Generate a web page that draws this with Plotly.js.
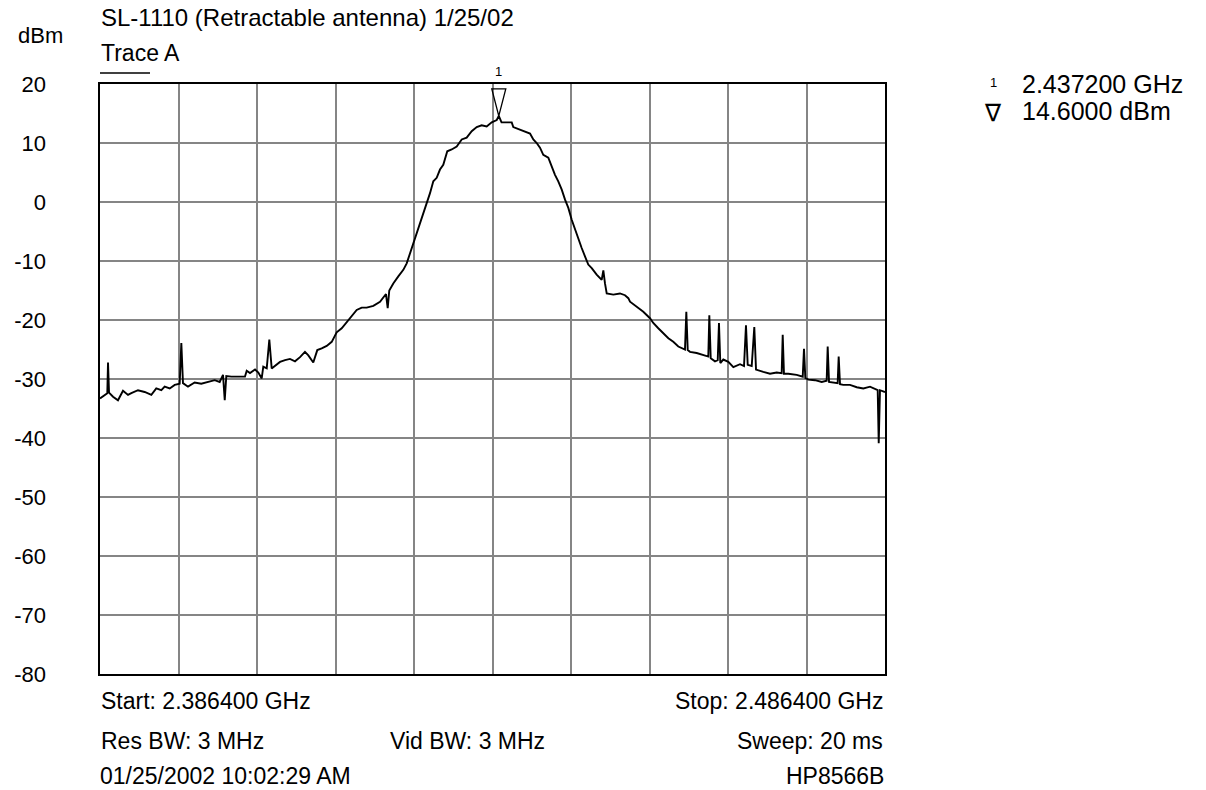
<!DOCTYPE html>
<html>
<head>
<meta charset="utf-8">
<script src="https://cdn.plot.ly/plotly-3.0.1.min.js"></script>
<style>
  html, body { margin: 0; padding: 0; background: #ffffff; }
  #plot { width: 1206px; height: 790px; }
</style>
</head>
<body>
<div id="plot"></div>
<script>
// Sweep settings (HP8566B spectrum analyzer)
const startMHz = 2386.4;
const stopMHz = 2486.4;
const refLevel = 20;
const bottomLevel = -80;
const dbPerDiv = 10;

// Marker 1
const markerMHz = 2437.2;
const markerDbm = 14.6;

// Trace A: frequency (MHz) and level (dBm)
const freqMHz = [
  2386.40, 2387.00, 2387.33, 2387.42, 2387.55, 2388.06, 2388.69, 2389.33, 2389.97, 2390.39,
  2391.24, 2392.09, 2392.94, 2393.57, 2394.21, 2394.64, 2395.28, 2395.92, 2396.55, 2396.76,
  2396.97, 2397.61, 2398.46, 2399.30, 2400.16, 2401.01, 2401.65, 2402.07, 2402.29, 2402.49,
  2403.13, 2404.87, 2405.09, 2405.51, 2406.15, 2406.57, 2407.00, 2407.20, 2407.64, 2407.97,
  2408.27, 2408.91, 2409.33, 2409.97, 2410.60, 2411.24, 2411.88, 2412.51, 2412.94, 2413.57,
  2414.08, 2414.64, 2415.28, 2415.92, 2416.55, 2417.19, 2417.83, 2418.46, 2419.10, 2419.74,
  2420.37, 2421.22, 2422.07, 2422.83, 2423.05, 2423.25, 2423.76, 2424.40, 2425.04, 2425.47,
  2425.89, 2426.31, 2426.74, 2427.16, 2427.59, 2428.02, 2428.44, 2428.86, 2429.29, 2429.71,
  2430.13, 2430.64, 2431.20, 2431.84, 2432.48, 2433.11, 2433.75, 2434.39, 2435.02, 2435.66,
  2436.30, 2436.94, 2437.20, 2437.55, 2438.85, 2439.05, 2439.90, 2440.54, 2441.18, 2441.60,
  2442.03, 2442.45, 2442.87, 2443.51, 2443.94, 2444.36, 2444.78, 2445.22, 2445.64, 2446.06,
  2446.49, 2446.91, 2447.33, 2447.76, 2448.18, 2448.60, 2449.04, 2449.67, 2450.31, 2450.52,
  2450.73, 2450.95, 2451.79, 2452.64, 2453.28, 2453.70, 2453.92, 2454.77, 2455.61, 2456.46,
  2456.88, 2457.52, 2458.16, 2458.80, 2459.43, 2460.07, 2460.92, 2461.09, 2461.27, 2461.56,
  2462.41, 2463.25, 2463.89, 2464.02, 2464.20, 2464.74, 2465.09, 2465.25, 2465.42, 2465.80,
  2466.44, 2467.08, 2467.93, 2468.44, 2468.69, 2468.91, 2469.42, 2469.75, 2469.97, 2470.90,
  2471.75, 2472.60, 2473.24, 2473.37, 2473.53, 2474.08, 2475.15, 2475.92, 2476.08, 2476.25,
  2476.63, 2477.48, 2478.34, 2478.97, 2479.10, 2479.27, 2479.81, 2480.37, 2480.50, 2480.67,
  2481.09, 2481.94, 2482.80, 2483.64, 2484.49, 2485.47, 2485.60, 2485.76, 2486.40
];
const levelDbm = [
  -33.3, -32.7, -32.4, -27.2, -32.3, -33.0, -33.6, -32.0, -32.7, -32.4,
  -31.9, -32.2, -32.7, -31.6, -31.9, -31.3, -31.6, -31.0, -30.8, -23.9,
  -30.7, -31.3, -30.6, -30.8, -30.5, -30.2, -30.5, -29.3, -33.6, -29.5,
  -29.6, -29.6, -28.6, -29.0, -28.4, -28.9, -29.9, -27.9, -28.2, -23.3,
  -28.2, -27.6, -27.1, -26.8, -26.6, -27.0, -26.3, -25.4, -26.0, -27.2,
  -25.1, -24.8, -24.4, -23.7, -22.1, -21.4, -20.3, -19.4, -18.3, -17.9,
  -17.9, -17.6, -16.9, -15.6, -18.0, -15.0, -13.8, -12.6, -11.5, -10.4,
  -8.7, -7.0, -5.3, -3.6, -2.2, -0.2, 1.5, 3.5, 4.1, 5.5,
  6.3, 8.6, 8.9, 9.4, 10.6, 10.9, 12.0, 12.7, 13.0, 12.8,
  13.5, 13.9, 14.6, 13.5, 13.5, 12.7, 12.3, 12.0, 11.6, 10.6,
  10.0, 9.2, 8.0, 7.5, 6.0, 4.6, 3.5, 2.1, 0.4, -1.0,
  -3.0, -4.7, -6.1, -7.8, -9.2, -10.6, -11.2, -12.3, -13.2, -11.6,
  -13.8, -15.5, -15.7, -15.5, -15.8, -16.3, -16.9, -17.7, -18.6, -19.7,
  -20.5, -21.4, -22.2, -23.1, -23.7, -24.5, -25.0, -18.6, -25.1, -25.4,
  -25.6, -25.9, -26.2, -19.2, -26.5, -27.0, -26.8, -20.5, -27.3, -26.7,
  -27.1, -28.0, -27.5, -27.8, -20.9, -27.6, -27.8, -21.2, -28.4, -28.8,
  -29.1, -28.9, -29.0, -22.5, -29.1, -29.1, -29.3, -29.6, -24.9, -29.8,
  -30.1, -30.2, -30.5, -30.3, -24.5, -30.5, -30.6, -30.7, -26.2, -30.9,
  -31.0, -31.0, -31.4, -31.6, -31.3, -31.9, -40.9, -31.9, -32.2
];

// Header / footer text
const titleText = 'SL-1110 (Retractable antenna) 1/25/02';
const unitText = 'dBm';
const traceName = 'Trace A';
const resBw = 'Res BW: 3 MHz';
const vidBw = 'Vid BW: 3 MHz';
const sweepText = 'Sweep: 20 ms';
const stampText = '01/25/2002 10:02:29 AM';
const instrument = 'HP8566B';

const FONT = 'Liberation Sans, Arial, sans-serif';
const TXT = { family: FONT, size: 23, color: '#000000' };
const READOUT = { family: FONT, size: 25, color: '#000000' };
const SMALL = { family: FONT, size: 13, color: '#000000' };

function ghz(mhz) { return (mhz / 1000).toFixed(6) + ' GHz'; }

// y tick labels written with a plain hyphen for negatives
const levelTicks = [];
for (let v = bottomLevel; v <= refLevel; v += dbPerDiv) levelTicks.push(v);

const trace = {
  type: 'scatter',
  mode: 'lines',
  x: freqMHz,
  y: levelDbm,
  line: { color: '#000000', width: 1.9 },
  hoverinfo: 'skip',
  showlegend: false
};

function note(text, x, y, xanchor, extra) {
  return Object.assign({
    xref: 'paper', yref: 'paper', x: x, y: y,
    xanchor: xanchor, yanchor: 'middle',
    text: text, showarrow: false, font: TXT
  }, extra || {});
}

const lastRow = { yanchor: 'bottom', borderpad: 0 };

const layout = {
  width: 1206,
  height: 790,
  margin: { l: 100, r: 321, t: 84, b: 116, pad: 0 },
  paper_bgcolor: '#ffffff',
  plot_bgcolor: '#ffffff',
  showlegend: false,
  xaxis: {
    range: [startMHz, stopMHz],
    tick0: startMHz,
    dtick: (stopMHz - startMHz) / 10,
    showticklabels: false,
    ticks: '',
    showgrid: true,
    gridcolor: '#858585',
    gridwidth: 2,
    zeroline: false,
    showline: true,
    linecolor: '#000000',
    linewidth: 1.6,
    mirror: true,
    fixedrange: true
  },
  yaxis: {
    range: [bottomLevel, refLevel],
    tickmode: 'array',
    tickvals: levelTicks,
    ticktext: levelTicks.map(String),
    ticks: '',
    ticklabelstandoff: 48,
    tickfont: { family: FONT, size: 22, color: '#000000' },
    showgrid: true,
    gridcolor: '#858585',
    gridwidth: 2,
    zeroline: false,
    showline: true,
    linecolor: '#000000',
    linewidth: 1.6,
    mirror: true,
    fixedrange: true
  },
  shapes: [
    // Trace A key line
    { type: 'line', xref: 'paper', yref: 'paper', x0: 0, x1: 0.0637, y0: 1.0186, y1: 1.0186,
      line: { color: '#000000', width: 1.5 } },
    // Marker 1 triangle sitting on the trace
    { type: 'path', xref: 'x', yref: 'y',
      xsizemode: 'pixel', ysizemode: 'pixel',
      xanchor: markerMHz, yanchor: markerDbm,
      path: 'M -7 27 L 7 27 L 0 0 Z',
      line: { color: '#000000', width: 1.3 }, fillcolor: 'rgba(0,0,0,0)' }
  ],
  annotations: [
    note(titleText, -0.001, 1.1119, 'left', { font: Object.assign({}, TXT, { size: 24 }) }),
    note(unitText, -0.0752, 1.083, 'center', { font: Object.assign({}, TXT, { size: 22 }) }),
    note(traceName, -0.001, 1.052, 'left'),
    // marker number above the triangle
    { xref: 'x', yref: 'y', x: markerMHz, y: markerDbm, yanchor: 'bottom', xanchor: 'center',
      yshift: 35, text: '1', showarrow: false, font: SMALL },
    // marker readout
    note('1', 1.1376, 1.003, 'center', { font: SMALL }),
    note(ghz(markerMHz), 1.1725, 1.0, 'left', { font: READOUT }),
    note('\u2207', 1.1376, 0.951, 'center', { font: { family: 'DejaVu Sans, sans-serif', size: 24, color: '#000' } }),
    note(markerDbm.toFixed(4) + ' dBm', 1.1725, 0.955, 'left', { font: READOUT }),
    // footer
    note('Start: ' + ghz(startMHz), -0.001, -0.0458, 'left'),
    note('Stop: ' + ghz(stopMHz), 1, -0.0458, 'right'),
    note(resBw, -0.001, -0.1136, 'left'),
    note(vidBw, 0.3669, -0.1136, 'left'),
    note(sweepText, 1, -0.1136, 'right'),
    note(stampText, -0.001, -0.1966, 'left', lastRow),
    note(instrument, 1, -0.1966, 'right', lastRow)
  ]
};

Plotly.newPlot('plot', [trace], layout, { staticPlot: true, displayModeBar: false });
</script>
</body>
</html>
